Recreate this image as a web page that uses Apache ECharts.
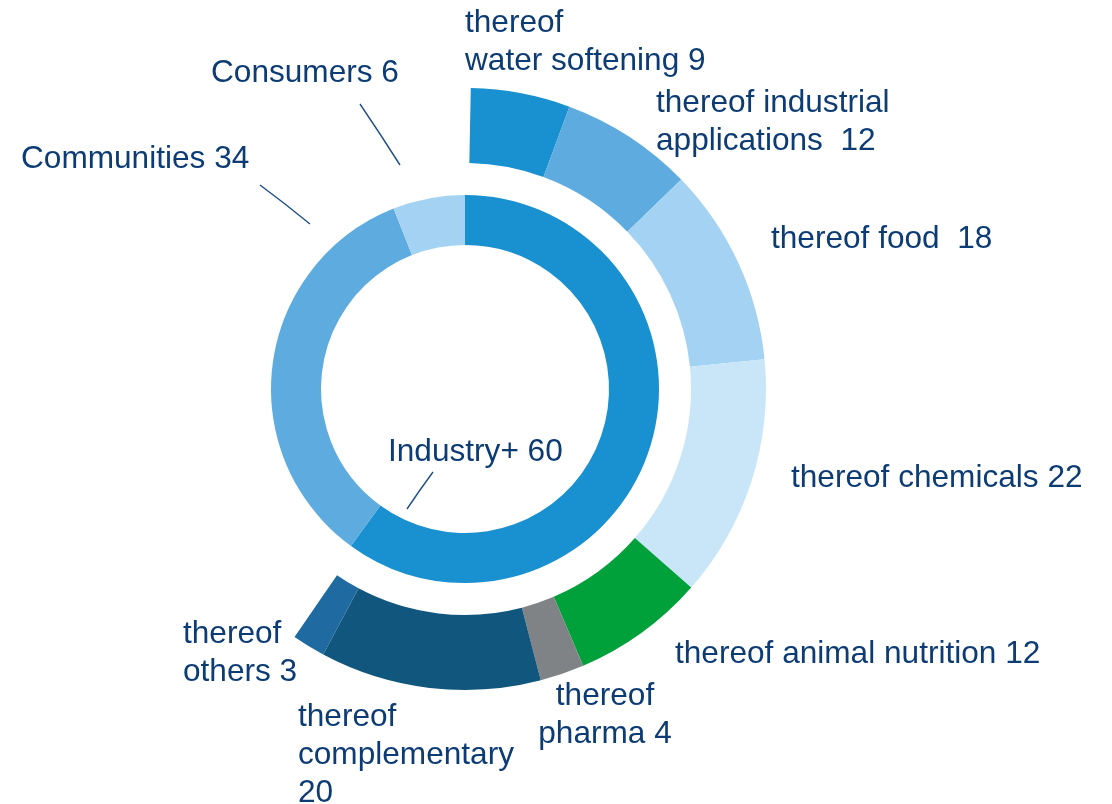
<!DOCTYPE html>
<html>
<head>
<meta charset="utf-8">
<script src="https://cdn.jsdelivr.net/npm/echarts@6/dist/echarts.min.js"></script>
<style>
  html, body { margin: 0; padding: 0; background: #ffffff; }
  #chart { width: 1112px; height: 804px; }
</style>
</head>
<body>
<div id="chart"></div>
<script>
// Sales split (%) by customer segment, inner ring
const segments = ['Industry+', 'Communities', 'Consumers'];
const segmentValues = [60, 34, 6];

// Breakdown of Industry+ (%), outer ring
const industryParts = ['water softening', 'industrial applications', 'food', 'chemicals',
  'animal nutrition', 'pharma', 'complementary', 'others'];
const industryValues = [9, 12, 18, 22, 12, 4, 20, 3];

// Label wording; {v} is replaced by the slice value
const segmentLabels = ['Industry+ {v}', 'Communities {v}', 'Consumers {v}'];
const industryLabels = ['thereof\nwater softening {v}', 'thereof industrial\napplications  {v}',
  'thereof food  {v}', 'thereof chemicals {v}', 'thereof animal nutrition {v}',
  'thereof\npharma {v}', 'thereof\ncomplementary\n{v}', 'thereof\nothers {v}'];

// Colours
const segmentColors = ['#1990d0', '#5eacdf', '#a3d2f2'];
const industryColors = ['#1990d0', '#5eacdf', '#a3d2f2', '#c9e6f9', '#00a13a', '#7f8385', '#10567d', '#1f6aa0'];
const TEXT = '#0d3c75';

// Label anchors: [x, first baseline, align]
const segmentLabelPos = [[388, 461, 'left'], [21, 168, 'left'], [211, 82, 'left']];
const segmentLeaderLines = [
  [[433, 472], [420, 490], [407, 509]],
  [[260, 185], [285, 204], [310, 224]],
  [[360, 104], [380, 134], [400, 165]]
];
const industryLabelPos = [[465, 32, 'left'], [656, 112, 'left'], [771, 248, 'left'], [791, 487, 'left'],
  [675, 663, 'left'], [605, 705, 'center'], [298, 726, 'left'], [183, 643, 'left']];

const FONT = 31.6, LINE_H = 38;
const BASELINE_OFF = 28; // top of first line box to its baseline

const center = [465, 389];
// The breakdown ring sits over the Industry+ arc of the inner ring
const outerStart = 88.9;
const outerEnd = -124.5;

const labelStyle = {
  show: true,
  position: 'outside',
  color: TEXT,
  fontSize: FONT,
  lineHeight: LINE_H,
  fontFamily: '"Liberation Sans", Arial, sans-serif'
};

const chart = echarts.init(document.getElementById('chart'), null, { renderer: 'canvas' });
chart.setOption({
  backgroundColor: '#ffffff',
  animation: false,
  series: [
    {
      name: 'segments',
      type: 'pie',
      center: center,
      radius: [144, 194],
      startAngle: 90,
      clockwise: true,
      avoidLabelOverlap: false,
      silent: true,
      label: Object.assign({}, labelStyle, {
        formatter: p => segmentLabels[p.dataIndex].replace('{v}', p.value)
      }),
      labelLine: { show: true, lineStyle: { color: '#1f4f86', width: 1.4 } },
      labelLayout: p => {
        const pos = segmentLabelPos[p.dataIndex];
        return {
          x: pos[0], y: pos[1] - BASELINE_OFF, align: pos[2], verticalAlign: 'top',
          labelLinePoints: segmentLeaderLines[p.dataIndex]
        };
      },
      data: segments.map((n, i) => ({
        name: n, value: segmentValues[i], itemStyle: { color: segmentColors[i] }
      }))
    },
    {
      name: 'industry',
      type: 'pie',
      center: center,
      radius: [226, 301],
      startAngle: outerStart,
      endAngle: outerEnd,
      clockwise: true,
      avoidLabelOverlap: false,
      silent: true,
      label: Object.assign({}, labelStyle, {
        formatter: p => industryLabels[p.dataIndex].replace('{v}', p.value)
      }),
      labelLine: { show: false },
      labelLayout: p => {
        const pos = industryLabelPos[p.dataIndex];
        return { x: pos[0], y: pos[1] - BASELINE_OFF, align: pos[2], verticalAlign: 'top' };
      },
      data: industryParts.map((n, i) => ({
        name: n, value: industryValues[i], itemStyle: { color: industryColors[i] }
      }))
    }
  ]
});
</script>
</body>
</html>
